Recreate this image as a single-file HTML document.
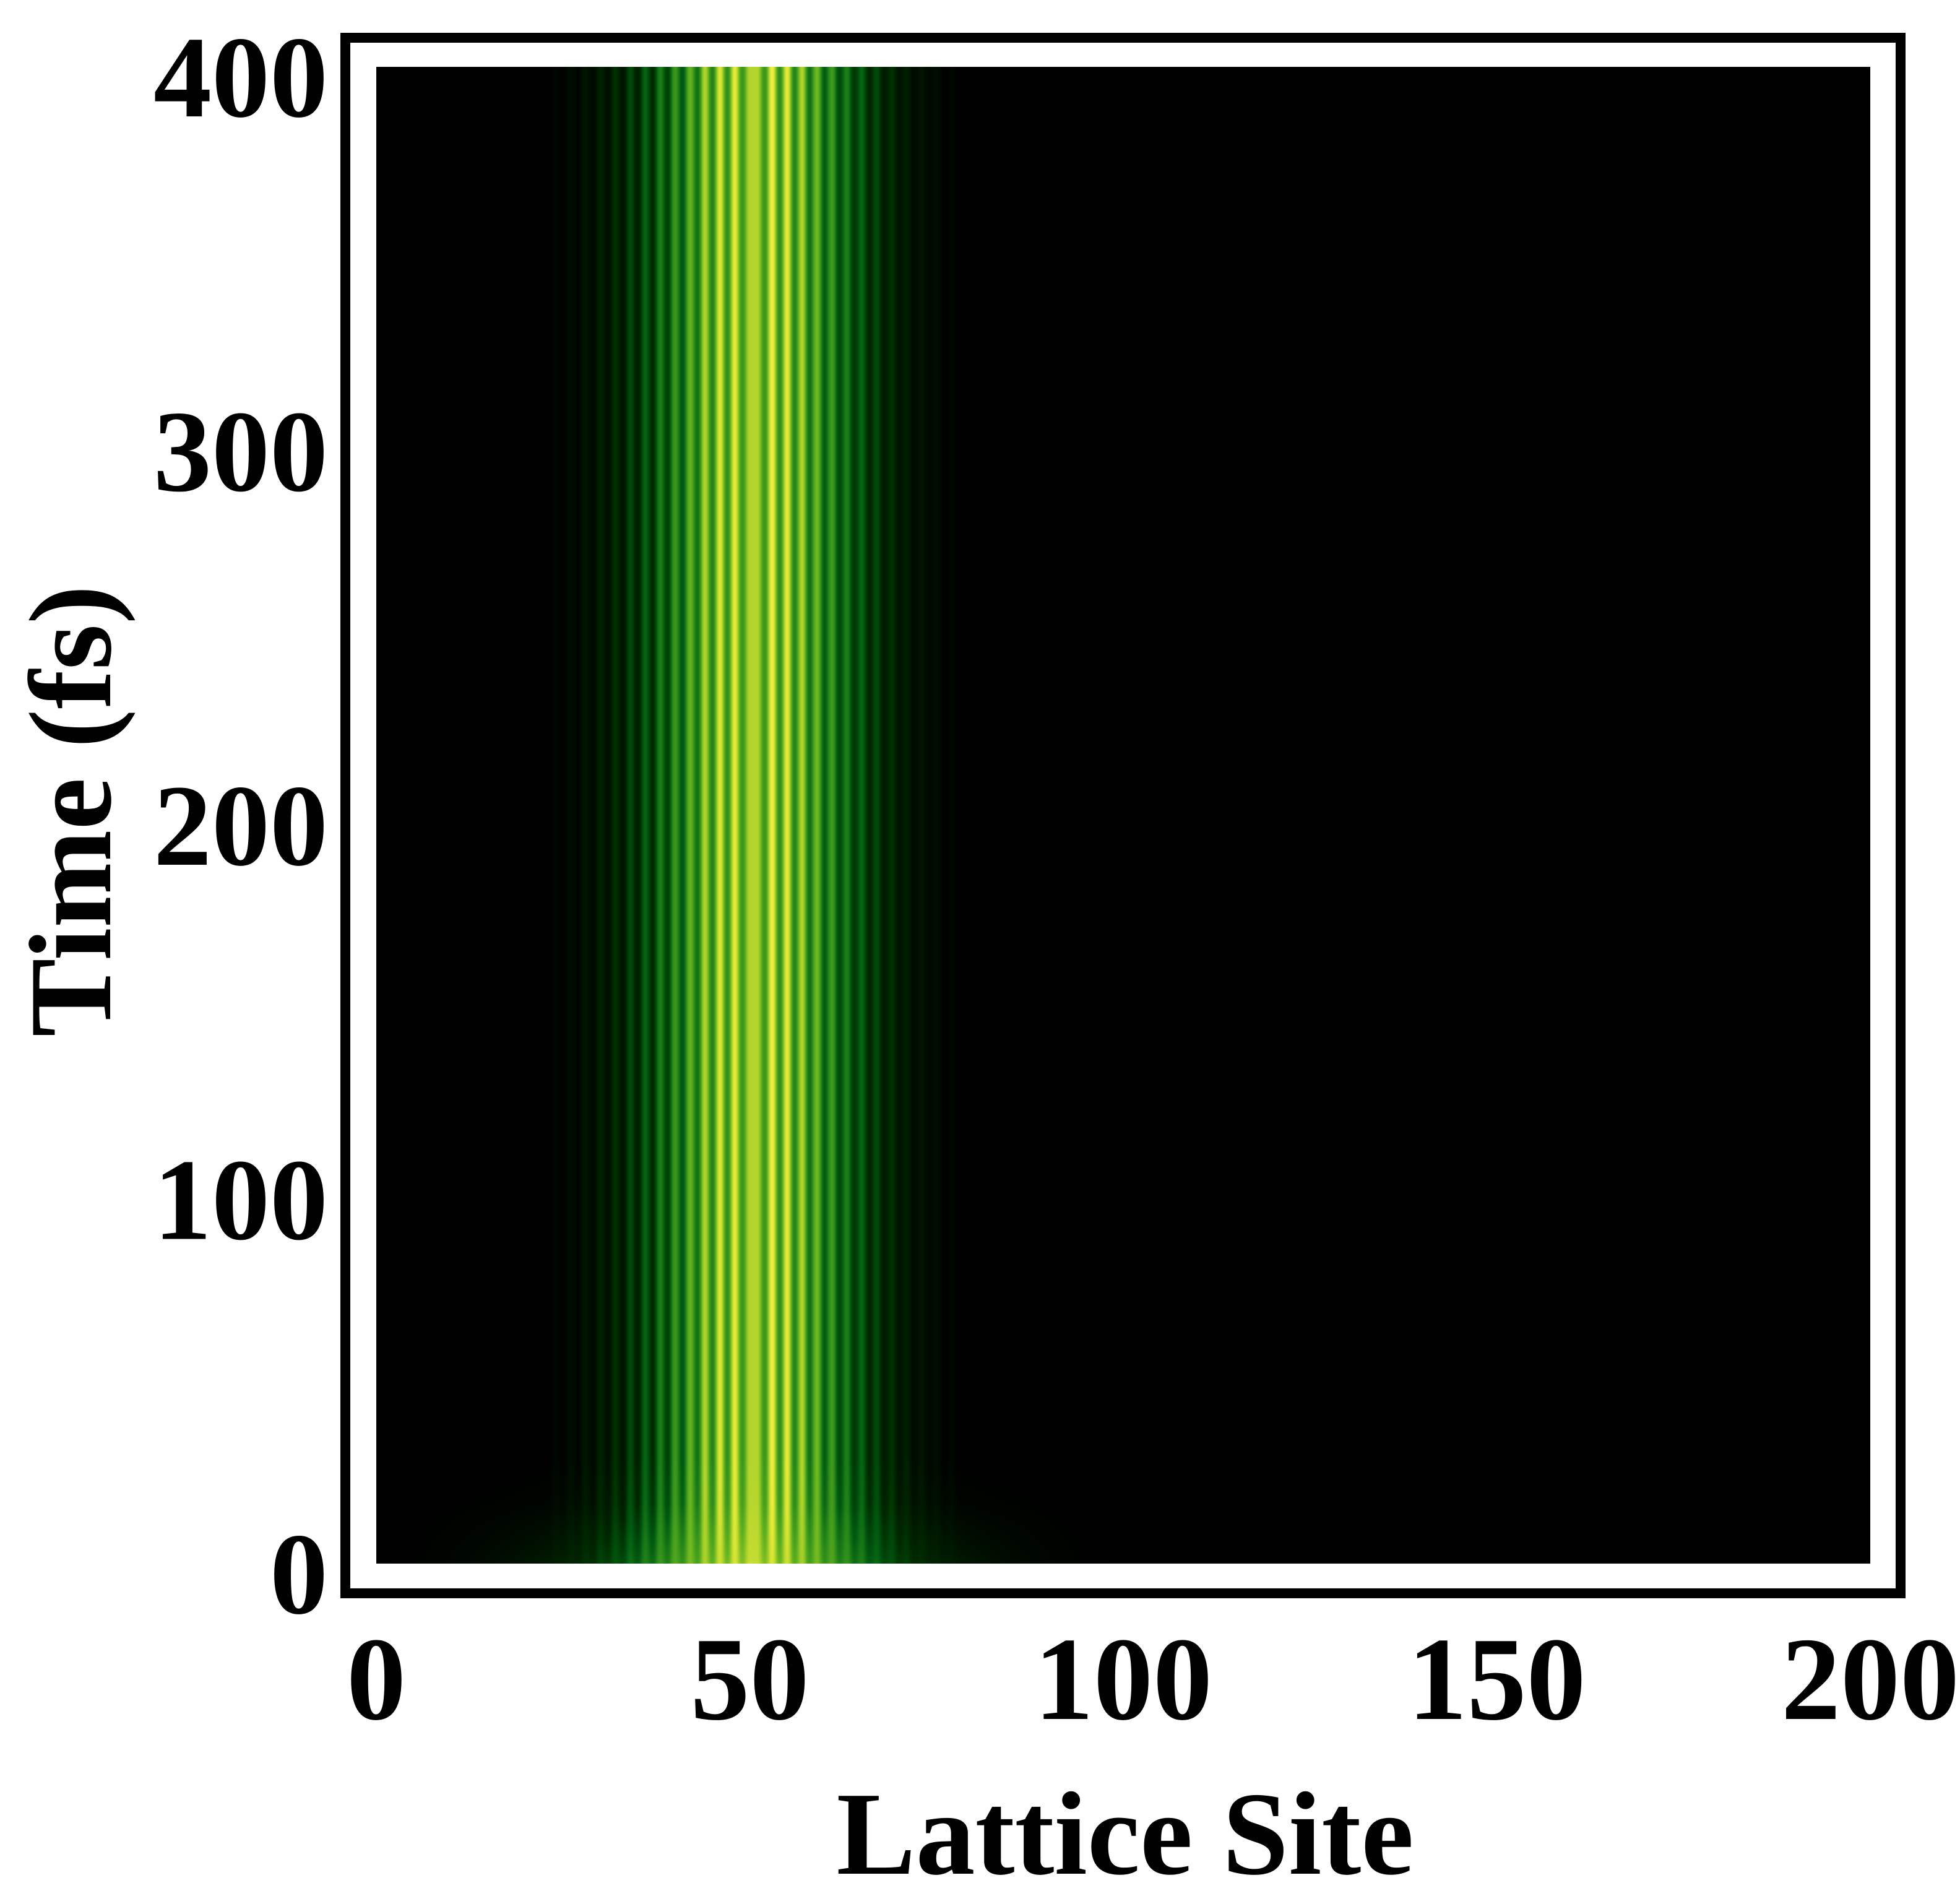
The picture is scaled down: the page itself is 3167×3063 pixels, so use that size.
<!DOCTYPE html>
<html><head><meta charset="utf-8">
<style>
html,body{margin:0;padding:0;background:#fff;}
#root{position:relative;width:3167px;height:3063px;overflow:hidden;background:#fff;}
#frame{position:absolute;left:550px;top:53px;width:2497px;height:2497px;border:16px solid #000;}
#heat{position:absolute;left:608px;top:108px;}
svg{position:absolute;left:0;top:0;}
text{font-family:"Liberation Serif",serif;font-weight:bold;fill:#000;}
</style></head>
<body>
<div id="root">
<div id="frame"></div>
<canvas id="heat" width="2414" height="2418"></canvas>
<svg id="axes" width="3167" height="3063"></svg>
</div>
<script>
// ---- data ----
const xTicks = [0, 50, 100, 150, 200];
const yTicks = [0, 100, 200, 300, 400];
const steadyStartSite = 24;
const steadyProfile = [0.03,0.01,0.06,0.02,0.10,0.04,0.16,0.07,0.22,0.10,0.30,0.15,0.38,0.20,0.46,0.27,0.55,0.34,0.66,0.42,0.80,0.48,0.88,0.52,0.90,0.55,0.80,0.80,0.55,0.92,0.52,0.90,0.48,0.80,0.42,0.68,0.36,0.56,0.30,0.46,0.24,0.38,0.18,0.30,0.13,0.22,0.09,0.15,0.05,0.10,0.03,0.06,0.01,0.03,0.0];
const initialSites = [0,5,10,15,20,25,30,35,40,45,50,55,60,65,70,75,80,85,90,95,100];
const initialProfile = [0,0.01,0.04,0.08,0.14,0.22,0.32,0.44,0.56,0.66,0.72,0.66,0.56,0.44,0.32,0.22,0.14,0.08,0.04,0.01,0];
const timeKnots = [0, 8, 16, 28];
const initialWeight = [0.75, 0.45, 0.15, 0];

// ---- scales ----
const X0=608, X1=3022, Y0=2526, Y1=108;
const xScale = v => X0 + (v - 0) / 200 * (X1 - X0);
const yScale = v => Y0 - (v - 0) / 400 * (Y0 - Y1);
const W = X1 - X0, H = Y0 - Y1;

function steadyAt(s){
  const f = s - steadyStartSite;
  const i = Math.floor(f);
  const a = (i>=0 && i<steadyProfile.length)? steadyProfile[i] : 0;
  const b = (i+1>=0 && i+1<steadyProfile.length)? steadyProfile[i+1] : 0;
  const t = f - i, c = (1-Math.cos(Math.PI*t))/2;
  return a + (b-a)*c;
}
function piecewise(xs, ys, v){
  if (v<=xs[0]) return ys[0];
  for (let k=0;k<xs.length-1;k++){
    if (v<=xs[k+1]){ const t=(v-xs[k])/(xs[k+1]-xs[k]); return ys[k]+(ys[k+1]-ys[k])*t; }
  }
  return ys[ys.length-1];
}
const stops=[[0,[0,0,0]],[0.2,[0,42,0]],[0.35,[0,90,16]],[0.5,[42,138,26]],[0.65,[96,176,32]],[0.78,[168,208,42]],[0.9,[232,236,58]],[1,[255,255,96]]];
function cmap(v){
  v=Math.max(0,Math.min(1,v));
  for(let k=0;k<stops.length-1;k++){
    if(v<=stops[k+1][0]){const t=(v-stops[k][0])/(stops[k+1][0]-stops[k][0]);
      const a=stops[k][1],b=stops[k+1][1];
      return [a[0]+(b[0]-a[0])*t,a[1]+(b[1]-a[1])*t,a[2]+(b[2]-a[2])*t];}
  }
  return stops[stops.length-1][1];
}
const cv=document.getElementById('heat'); const ctx=cv.getContext('2d');
const img=ctx.createImageData(W,H);
const colSteady=new Float32Array(W), colInit=new Float32Array(W);
for(let px=0;px<W;px++){
  const s = (px+0.5)/W*200;
  colSteady[px]=steadyAt(s);
  colInit[px]=piecewise(initialSites, initialProfile, s);
}
for(let py=0;py<H;py++){
  const tm = (H-py-0.5)/H*400;
  const w = piecewise(timeKnots, initialWeight, tm);
  for(let px=0;px<W;px++){
    const v = w*(colInit[px]*0.85+colSteady[px]*0.3) + (1-w)*colSteady[px];
    const c=cmap(v); const o=(py*W+px)*4;
    img.data[o]=c[0];img.data[o+1]=c[1];img.data[o+2]=c[2];img.data[o+3]=255;
  }
}
ctx.putImageData(img,0,0);

// ---- axes text ----
const svg=document.getElementById('axes'); const NS='http://www.w3.org/2000/svg';
xTicks.forEach(v=>{
  const t=document.createElementNS(NS,'text');
  
  
  t.setAttribute('x',xScale(v)); t.setAttribute('y',2777);
  t.setAttribute('text-anchor','middle'); t.setAttribute('font-size','192');
  t.textContent=v; svg.appendChild(t);
});
yTicks.forEach(v=>{
  const t=document.createElementNS(NS,'text');
  
  
  t.setAttribute('x',530); t.setAttribute('y',yScale(v)+80);
  t.setAttribute('text-anchor','end'); t.setAttribute('font-size','188');
  t.textContent=v; svg.appendChild(t);
});
const xt=document.createElementNS(NS,'text');


xt.setAttribute('x',1818); xt.setAttribute('y',3027);
xt.setAttribute('text-anchor','middle'); xt.setAttribute('font-size','192');
xt.textContent='Lattice Site'; svg.appendChild(xt);
const yt=document.createElementNS(NS,'text');


yt.setAttribute('transform','translate(178,1310) rotate(-90)');
yt.setAttribute('text-anchor','middle'); yt.setAttribute('font-size','190');
yt.textContent='Time (fs)'; svg.appendChild(yt);
</script>
</body></html>
